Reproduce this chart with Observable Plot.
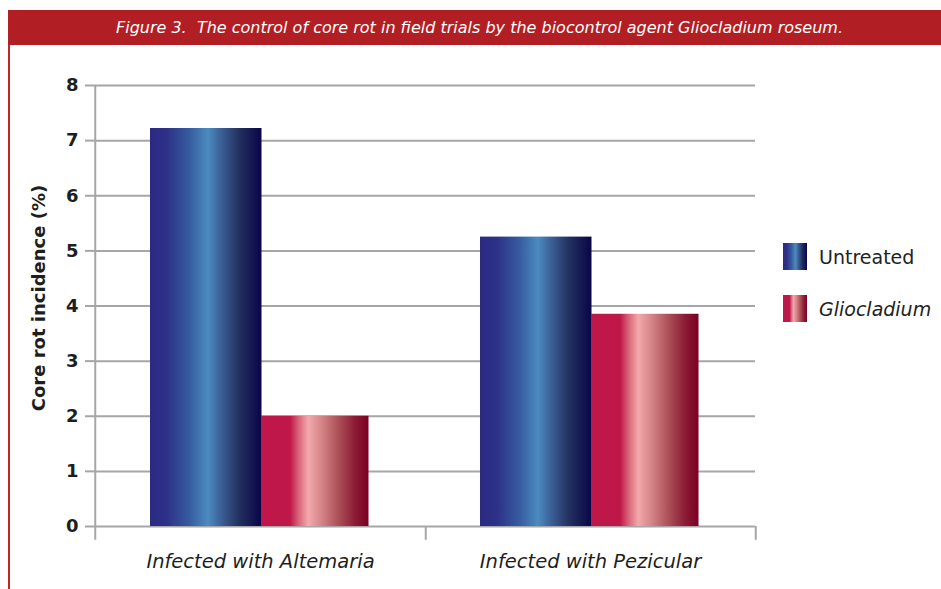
<!DOCTYPE html>
<html>
<head>
<meta charset="utf-8">
<script src="https://cdn.jsdelivr.net/npm/d3@7"></script>
<script src="https://cdn.jsdelivr.net/npm/@observablehq/plot@0.6"></script>
<style>
  html, body { margin: 0; padding: 0; background: #fff; }
  body { width: 941px; height: 589px; position: relative; overflow: hidden; font-family: "DejaVu Sans", Verdana, sans-serif; }
  #header {
    position: absolute; left: 8px; top: 10px; width: 933px; height: 35px;
    background: #b11f24; color: #fff; font-style: italic; font-size: 16px;
    display: flex; align-items: center; justify-content: center; padding-left: 10px; box-sizing: border-box;
  }
  #edge { position: absolute; left: 8px; top: 45px; width: 2px; height: 544px; background: #c4242b; }
  #chart { position: absolute; left: 0; top: 45px; }
  #legend { position: absolute; left: 783px; top: 243px; font-size: 19px; color: #222; }
  .item { display: flex; align-items: center; height: 27px; margin-bottom: 25px; }
  .item svg { margin-right: 12px; display: block; }
</style>
</head>
<body>
<svg width="0" height="0" style="position:absolute">
  <defs>
    <linearGradient id="gradUntreated" x1="0" x2="1" y1="0" y2="0">
      <stop offset="0" stop-color="#2b2a82"/>
      <stop offset="0.15" stop-color="#2d3187"/>
      <stop offset="0.35" stop-color="#365b9f"/>
      <stop offset="0.52" stop-color="#4b8bbf"/>
      <stop offset="0.63" stop-color="#3c6299"/>
      <stop offset="0.8" stop-color="#22305f"/>
      <stop offset="1" stop-color="#0a0548"/>
    </linearGradient>
    <linearGradient id="gradGliocladium" x1="0" x2="1" y1="0" y2="0">
      <stop offset="0" stop-color="#c0174a"/>
      <stop offset="0.27" stop-color="#c0174a"/>
      <stop offset="0.35" stop-color="#d86478"/>
      <stop offset="0.44" stop-color="#f3a9ab"/>
      <stop offset="0.56" stop-color="#d58588"/>
      <stop offset="0.72" stop-color="#ac5058"/>
      <stop offset="0.88" stop-color="#8a1a34"/>
      <stop offset="1" stop-color="#7c0024"/>
    </linearGradient>
  </defs>
</svg>

<div id="header">Figure 3.&nbsp; The control of core rot in field trials by the biocontrol agent Gliocladium roseum.</div>
<div id="edge"></div>
<div id="chart"></div>
<div id="legend"></div>

<script>
// Core rot incidence (%) per infection type
const categories = ["Infected with Altemaria", "Infected with Pezicular"];
const series = ["Untreated", "Gliocladium"];
const untreated = [7.22, 5.25];
const gliocladium = [2.0, 3.85];
const yTicks = [0, 1, 2, 3, 4, 5, 6, 7, 8];
const yLabel = "Core rot incidence (%)";

const fills = {Untreated: "url(#gradUntreated)", Gliocladium: "url(#gradGliocladium)"};

const rows = categories.flatMap((c, i) => [
  {category: c, series: "Untreated", value: untreated[i]},
  {category: c, series: "Gliocladium", value: gliocladium[i]}
]);

const width = 760, height = 544;
const marginLeft = 94, marginRight = 5, marginTop = 40, marginBottom = 63;
const bw = (width - marginLeft - marginRight) / categories.length;
const grid = "#a6a6a6";
const ink = "#1e1e1e";

const chart = Plot.plot({
  width, height, marginLeft, marginRight, marginTop, marginBottom,
  style: {fontFamily: "'DejaVu Sans', Verdana, sans-serif", background: "transparent"},
  x: {domain: categories, padding: 0, axis: null},
  y: {domain: [0, 8], axis: null},
  marks: [
    Plot.gridY(yTicks, {stroke: grid, strokeOpacity: 1, strokeWidth: 2}),
    Plot.axisY(yTicks, {
      tickSize: 9, tickPadding: 7, stroke: grid, strokeWidth: 2,
      fontSize: 18, fontWeight: "bold", fill: ink, label: null, tickFormat: d3.format("d")
    }),
    Plot.barY(rows.filter(d => d.series === "Untreated"), {
      x: "category", y: "value", fill: fills.Untreated, insetLeft: 55, insetRight: 163.5
    }),
    Plot.barY(rows.filter(d => d.series === "Gliocladium"), {
      x: "category", y: "value", fill: fills.Gliocladium, insetLeft: 166, insetRight: 56.5
    }),
    // vertical axis line, continuing below the baseline as the first group tick
    Plot.ruleX(categories.slice(0, 1), {x: d => d, dx: -bw / 2, y1: 8, y2: -0.25, stroke: grid, strokeWidth: 2}),
    // group boundary ticks below the baseline
    Plot.ruleX(categories, {x: d => d, dx: bw / 2, y1: 0, y2: -0.25, stroke: grid, strokeWidth: 2}),
    Plot.axisX({tickSize: 0, tickPadding: 28, fontSize: 19.5, fontStyle: "italic", fill: ink, label: null}),
    Plot.text([yLabel], {
      frameAnchor: "left", textAnchor: "middle", dx: -55, dy: -8, rotate: -90,
      fontSize: 18, fontWeight: "bold", fill: ink
    })
  ]
});
document.getElementById("chart").append(chart);

// legend with the same gradient swatches
const legend = d3.select("#legend");
for (const s of series) {
  const item = legend.append("div").attr("class", "item");
  item.append("svg").attr("width", 24).attr("height", 27)
    .append("rect").attr("width", 24).attr("height", 27).attr("fill", fills[s]);
  item.append("span").text(s).style("font-style", s === "Gliocladium" ? "italic" : "normal");
}
</script>
</body>
</html>
